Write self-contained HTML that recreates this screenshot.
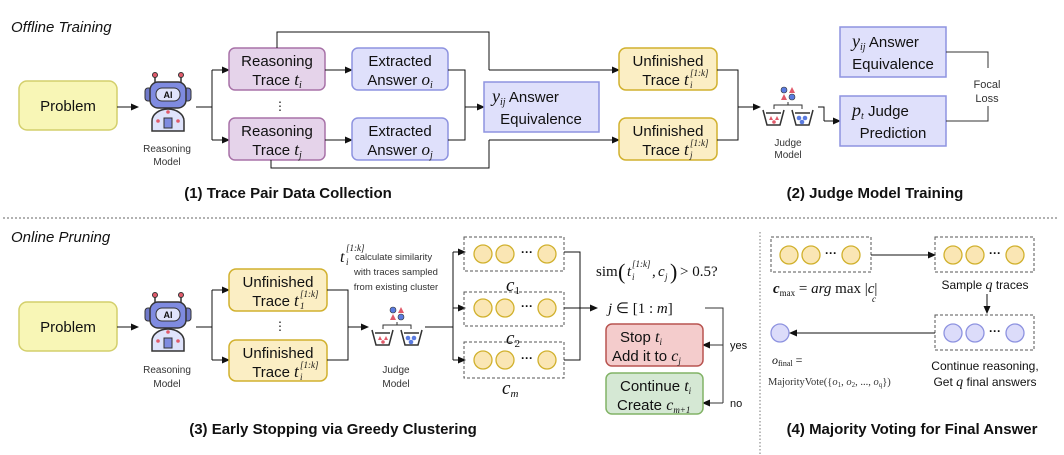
<!DOCTYPE html>
<html><head><meta charset="utf-8"><style>
html,body{margin:0;padding:0;background:#fff}
svg{display:block}
text{font-family:"Liberation Sans",sans-serif;fill:#111}
.bx{font-size:15px}
.m{font-family:"Liberation Serif",serif;font-style:italic}
.s{font-size:10px;fill:#333}
.t{font-size:15px;font-weight:bold}
.sup{font-family:"Liberation Serif",serif;font-style:italic;font-size:9px}
</style></head><body>
<svg width="1064" height="455" viewBox="0 0 1064 455" xmlns="http://www.w3.org/2000/svg">
<defs>
<marker id="a" markerWidth="8" markerHeight="8" refX="7" refY="4" orient="auto" markerUnits="userSpaceOnUse"><path d="M0,0.5 L8,4 L0,7.5 z" fill="#111"/></marker>
<g id="robot">
 <line x1="-13" y1="-28" x2="-13" y2="-20" stroke="#333" stroke-width="1.5"/>
 <line x1="13" y1="-28" x2="13" y2="-20" stroke="#333" stroke-width="1.5"/>
 <circle cx="-13" cy="-29" r="2.5" fill="#e05a6a" stroke="#333"/>
 <circle cx="13" cy="-29" r="2.5" fill="#e05a6a" stroke="#333"/>
 <rect x="-23" y="-16" width="7" height="13" rx="3" fill="#6f78c8" stroke="#333"/>
 <rect x="16" y="-16" width="7" height="13" rx="3" fill="#6f78c8" stroke="#333"/>
 <rect x="-18" y="-22" width="36" height="26" rx="8" fill="#7f8be0" stroke="#333" stroke-width="1.5"/>
 <rect x="-12" y="-16" width="24" height="13" rx="6" fill="#dfe3fb" stroke="#333"/>
 <text x="0" y="-6" text-anchor="middle" style="font-size:9px;font-weight:bold">AI</text>
 <path d="M-16,27 L-16,17 A16,12 0 0 1 16,17 L16,27 z" fill="#dfe3fb" stroke="#333" stroke-width="1.5"/>
 <rect x="-4" y="14" width="8" height="10" fill="#7f8be0" stroke="#333"/>
 <circle cx="-10" cy="17" r="1.8" fill="#e05a6a"/><circle cx="10" cy="17" r="1.8" fill="#e05a6a"/><circle cx="0" cy="8" r="1.8" fill="#e05a6a"/>
</g>
<g id="judge">
 <circle cx="-4" cy="-20" r="3" fill="#5a7be0" stroke="#333" stroke-width=".6"/>
 <path d="M1,-17 L4,-23 L7,-17 z" fill="#e05a6a"/>
 <path d="M-7,-10 L-4,-16 L-1,-10 z" fill="#e05a6a"/>
 <circle cx="4" cy="-13" r="3" fill="#5a7be0" stroke="#333" stroke-width=".6"/>
 <path d="M0,-8 V-5 M-14,-1 V-5 H14 V-1" fill="none" stroke="#333"/>
 <path d="M-25,0 L-21,15 H-8 L-4,0 M-22,3 H-7" fill="none" stroke="#333" stroke-width="1.5"/>
 <path d="M4,0 L8,15 H21 L25,0 M7,3 H22" fill="none" stroke="#333" stroke-width="1.5"/>
 <path d="M-19,10 L-17,6 L-15,10z M-13,10 L-11,6 L-9,10z" fill="#e05a6a"/><circle cx="-14" cy="12" r="1.8" fill="#e05a6a"/>
 <circle cx="11" cy="8" r="2.3" fill="#5a7be0"/><circle cx="17" cy="8" r="2.3" fill="#5a7be0"/><circle cx="14" cy="12" r="2.3" fill="#5a7be0"/>
</g>
</defs>

<!-- ===== Top ===== -->
<text x="11" y="32" style="font-size:15px;font-style:italic">Offline Training</text>
<rect x="19" y="81" width="98" height="49" rx="8" fill="#f8f6b6" stroke="#d3cf6b" stroke-width="1.5"/>
<text x="68" y="111" class="bx" text-anchor="middle">Problem</text>
<line x1="117" y1="107" x2="138" y2="107" stroke="#111" marker-end="url(#a)"/>
<use href="#robot" x="168" y="104"/>
<text x="167" y="152" class="s" text-anchor="middle">Reasoning</text>
<text x="167" y="165" class="s" text-anchor="middle">Model</text>
<path d="M196,107 H212 M212,70 V140" fill="none" stroke="#111"/>
<line x1="212" y1="70" x2="229" y2="70" stroke="#111" marker-end="url(#a)"/>
<line x1="212" y1="140" x2="229" y2="140" stroke="#111" marker-end="url(#a)"/>
<rect x="229" y="48" width="96" height="42" rx="6" fill="#e5d3ea" stroke="#a872a8" stroke-width="1.5"/>
<text x="277" y="66" class="bx" text-anchor="middle">Reasoning</text>
<text x="277" y="85" class="bx" text-anchor="middle">Trace <tspan class="m" style="font-size:17px">t<tspan style="font-size:10px" dy="3">i</tspan></tspan></text>
<rect x="229" y="118" width="96" height="42" rx="6" fill="#e5d3ea" stroke="#a872a8" stroke-width="1.5"/>
<text x="277" y="136" class="bx" text-anchor="middle">Reasoning</text>
<text x="277" y="155" class="bx" text-anchor="middle">Trace <tspan class="m" style="font-size:17px">t<tspan style="font-size:10px" dy="3">j</tspan></tspan></text>
<text x="280" y="110" text-anchor="middle" style="font-size:12px">⋮</text>
<line x1="325" y1="70" x2="352" y2="70" stroke="#111" marker-end="url(#a)"/>
<line x1="325" y1="140" x2="352" y2="140" stroke="#111" marker-end="url(#a)"/>
<rect x="352" y="48" width="96" height="42" rx="6" fill="#dfe0fb" stroke="#8e93e0" stroke-width="1.5"/>
<text x="400" y="66" class="bx" text-anchor="middle">Extracted</text>
<text x="400" y="85" class="bx" text-anchor="middle">Answer <tspan class="m" style="font-size:17px">o<tspan style="font-size:10px" dy="3">i</tspan></tspan></text>
<rect x="352" y="118" width="96" height="42" rx="6" fill="#dfe0fb" stroke="#8e93e0" stroke-width="1.5"/>
<text x="400" y="136" class="bx" text-anchor="middle">Extracted</text>
<text x="400" y="155" class="bx" text-anchor="middle">Answer <tspan class="m" style="font-size:17px">o<tspan style="font-size:10px" dy="3">j</tspan></tspan></text>
<path d="M448,70 H465 V140 H448" fill="none" stroke="#111"/>
<line x1="465" y1="107" x2="484" y2="107" stroke="#111" marker-end="url(#a)"/>
<rect x="484" y="82" width="115" height="50" fill="#dfe0fb" stroke="#8e93e0" stroke-width="1.5"/>
<text x="492" y="102" style="font-size:15px"><tspan class="m" style="font-size:18px">y<tspan style="font-size:10px" dy="3">ij</tspan></tspan><tspan dy="-3"> Answer</tspan></text>
<text x="541" y="124" class="bx" text-anchor="middle">Equivalence</text>
<path d="M277,48 V32 H489 V70" fill="none" stroke="#111"/>
<line x1="489" y1="70" x2="619" y2="70" stroke="#111" marker-end="url(#a)"/>
<path d="M271,160 V168 H489 V140" fill="none" stroke="#111"/>
<line x1="489" y1="140" x2="619" y2="140" stroke="#111" marker-end="url(#a)"/>
<rect x="619" y="48" width="98" height="42" rx="7" fill="#fbeec4" stroke="#d1b12e" stroke-width="1.5"/>
<text x="668" y="66" class="bx" text-anchor="middle">Unfinished</text>
<text x="680" y="85" class="bx" text-anchor="end">Trace</text>
<text x="684" y="85" class="m" style="font-size:17px">t</text>
<text x="690" y="76" class="sup">[1:k]</text>
<text x="690" y="88" class="sup">i</text>
<rect x="619" y="118" width="98" height="42" rx="7" fill="#fbeec4" stroke="#d1b12e" stroke-width="1.5"/>
<text x="668" y="136" class="bx" text-anchor="middle">Unfinished</text>
<text x="680" y="155" class="bx" text-anchor="end">Trace</text>
<text x="684" y="155" class="m" style="font-size:17px">t</text>
<text x="690" y="146" class="sup">[1:k]</text>
<text x="690" y="158" class="sup">j</text>
<path d="M717,70 H738 V140 H717" fill="none" stroke="#111"/>
<line x1="738" y1="107" x2="760" y2="107" stroke="#111" marker-end="url(#a)"/>
<use href="#judge" x="788" y="110"/>
<text x="788" y="146" class="s" text-anchor="middle">Judge</text>
<text x="788" y="158" class="s" text-anchor="middle">Model</text>
<path d="M818,107 H824 V121" fill="none" stroke="#111"/>
<line x1="824" y1="121" x2="840" y2="121" stroke="#111" marker-end="url(#a)"/>
<rect x="840" y="27" width="106" height="50" fill="#dfe0fb" stroke="#8e93e0" stroke-width="1.5"/>
<text x="852" y="47" style="font-size:15px"><tspan class="m" style="font-size:18px">y<tspan style="font-size:10px" dy="3">ij</tspan></tspan><tspan dy="-3"> Answer</tspan></text>
<text x="893" y="69" class="bx" text-anchor="middle">Equivalence</text>
<rect x="840" y="96" width="106" height="50" fill="#dfe0fb" stroke="#8e93e0" stroke-width="1.5"/>
<text x="852" y="116" style="font-size:15px"><tspan class="m" style="font-size:18px">p<tspan style="font-size:10px" dy="3">t</tspan></tspan><tspan dy="-3"> Judge</tspan></text>
<text x="893" y="138" class="bx" text-anchor="middle">Prediction</text>
<path d="M946,52 H988 V68 M988,106 V121 H946" fill="none" stroke="#333"/>
<text x="987" y="88" style="font-size:11px;fill:#333" text-anchor="middle">Focal</text>
<text x="987" y="102" style="font-size:11px;fill:#333" text-anchor="middle">Loss</text>
<text x="288" y="198" class="t" text-anchor="middle">(1) Trace Pair Data Collection</text>
<text x="875" y="198" class="t" text-anchor="middle">(2) Judge Model Training</text>

<line x1="3" y1="218" x2="1058" y2="218" stroke="#666" stroke-dasharray="2,2"/>

<!-- ===== Bottom ===== -->
<text x="11" y="242" style="font-size:15px;font-style:italic">Online Pruning</text>
<rect x="19" y="302" width="98" height="49" rx="8" fill="#f8f6b6" stroke="#d3cf6b" stroke-width="1.5"/>
<text x="68" y="332" class="bx" text-anchor="middle">Problem</text>
<line x1="117" y1="327" x2="138" y2="327" stroke="#111" marker-end="url(#a)"/>
<use href="#robot" x="168" y="324"/>
<text x="167" y="373" class="s" text-anchor="middle">Reasoning</text>
<text x="167" y="387" class="s" text-anchor="middle">Model</text>
<path d="M196,327 H212 M212,290 V360" fill="none" stroke="#111"/>
<line x1="212" y1="290" x2="229" y2="290" stroke="#111" marker-end="url(#a)"/>
<line x1="212" y1="360" x2="229" y2="360" stroke="#111" marker-end="url(#a)"/>
<rect x="229" y="269" width="98" height="42" rx="7" fill="#fbeec4" stroke="#d1b12e" stroke-width="1.5"/>
<text x="278" y="287" class="bx" text-anchor="middle">Unfinished</text>
<text x="290" y="306" class="bx" text-anchor="end">Trace</text>
<text x="294" y="306" class="m" style="font-size:17px">t</text>
<text x="300" y="297" class="sup">[1:k]</text>
<text x="300" y="309" class="sup">1</text>
<rect x="229" y="340" width="98" height="41" rx="7" fill="#fbeec4" stroke="#d1b12e" stroke-width="1.5"/>
<text x="278" y="358" class="bx" text-anchor="middle">Unfinished</text>
<text x="290" y="377" class="bx" text-anchor="end">Trace</text>
<text x="294" y="377" class="m" style="font-size:17px">t</text>
<text x="300" y="368" class="sup">[1:k]</text>
<text x="300" y="380" class="sup">i</text>
<text x="280" y="330" text-anchor="middle" style="font-size:12px">⋮</text>
<path d="M327,290 H348 V360 H327" fill="none" stroke="#111"/>
<line x1="348" y1="327" x2="368" y2="327" stroke="#111" marker-end="url(#a)"/>
<use href="#judge" x="397" y="330"/>
<text x="396" y="373" class="s" text-anchor="middle">Judge</text>
<text x="396" y="387" class="s" text-anchor="middle">Model</text>
<text x="340" y="262" class="m" style="font-size:16px">t</text>
<text x="346" y="251" class="sup">[1:k]</text>
<text x="346" y="265" class="sup">i</text>
<text x="355" y="260" style="font-size:9.5px;fill:#333">calculate similarity</text>
<text x="396" y="275" style="font-size:9.5px;fill:#333" text-anchor="middle">with traces sampled</text>
<text x="396" y="290" style="font-size:9.5px;fill:#333" text-anchor="middle">from existing cluster</text>
<path d="M425,327 H453 M453,252 V360" fill="none" stroke="#111"/>
<line x1="453" y1="252" x2="465" y2="252" stroke="#111" marker-end="url(#a)"/>
<line x1="453" y1="308" x2="465" y2="308" stroke="#111" marker-end="url(#a)"/>
<line x1="453" y1="360" x2="465" y2="360" stroke="#111" marker-end="url(#a)"/>
<g fill="none" stroke="#555" stroke-dasharray="3,2">
<rect x="464" y="237" width="100" height="34"/><rect x="464" y="292" width="100" height="34"/><rect x="464" y="342" width="100" height="36"/>
<rect x="771" y="237" width="100" height="35"/><rect x="935" y="237" width="99" height="35"/><rect x="935" y="315" width="99" height="35"/>
</g>
<g fill="#fae6b4" stroke="#d1b12e" stroke-width="1.3">
<circle cx="483" cy="254" r="9"/><circle cx="505" cy="254" r="9"/><circle cx="547" cy="254" r="9"/>
<circle cx="483" cy="308" r="9"/><circle cx="505" cy="308" r="9"/><circle cx="547" cy="308" r="9"/>
<circle cx="483" cy="360" r="9"/><circle cx="505" cy="360" r="9"/><circle cx="547" cy="360" r="9"/>
<circle cx="789" cy="255" r="9"/><circle cx="811" cy="255" r="9"/><circle cx="851" cy="255" r="9"/>
<circle cx="953" cy="255" r="9"/><circle cx="975" cy="255" r="9"/><circle cx="1015" cy="255" r="9"/>
</g>
<g fill="#dcdcfa" stroke="#8e93e0" stroke-width="1.3">
<circle cx="953" cy="333" r="9"/><circle cx="975" cy="333" r="9"/><circle cx="1015" cy="333" r="9"/>
<circle cx="780" cy="333" r="9"/>
</g>
<g style="font-size:12px;font-weight:bold" text-anchor="middle">
<text x="527" y="256">···</text><text x="527" y="310">···</text><text x="527" y="362">···</text>
<text x="831" y="257">···</text><text x="995" y="257">···</text><text x="995" y="335">···</text>
</g>
<text x="506" y="291" class="m" style="font-size:19px">c<tspan style="font-size:11px;font-style:normal" dy="3">1</tspan></text>
<text x="506" y="344" class="m" style="font-size:19px">c<tspan style="font-size:11px;font-style:normal" dy="3">2</tspan></text>
<text x="502" y="394" class="m" style="font-size:19px">c<tspan style="font-size:11px" dy="3">m</tspan></text>
<path d="M564,252 H580 V360 H564 M564,308 H580" fill="none" stroke="#111"/>
<line x1="580" y1="308" x2="597" y2="308" stroke="#111" marker-end="url(#a)"/>
<text x="596" y="276" style="font-family:'Liberation Serif',serif;font-size:15px">sim</text>
<text x="618" y="279" style="font-family:'Liberation Serif',serif;font-size:22px">(</text>
<text x="627" y="276" class="m" style="font-size:15px">t</text>
<text x="632" y="267" class="sup">[1:k]</text>
<text x="632" y="280" class="sup">i</text>
<text x="652" y="276" style="font-family:'Liberation Serif',serif;font-size:15px">,</text>
<text x="658" y="276" class="m" style="font-size:15px">c</text>
<text x="665" y="280" class="sup">j</text>
<text x="670" y="279" style="font-family:'Liberation Serif',serif;font-size:22px">)</text>
<text x="680" y="276" style="font-family:'Liberation Serif',serif;font-size:15px">&gt; 0.5?</text>
<text x="608" y="313" style="font-family:'Liberation Serif',serif;font-size:15px"><tspan class="m">j</tspan> ∈ [1 : <tspan class="m">m</tspan>]</text>
<path d="M705,308 H723 V403" fill="none" stroke="#333"/>
<line x1="723" y1="345" x2="703" y2="345" stroke="#333" marker-end="url(#a)"/>
<line x1="723" y1="403" x2="703" y2="403" stroke="#333" marker-end="url(#a)"/>
<text x="730" y="349" style="font-size:11px">yes</text>
<text x="730" y="407" style="font-size:11px">no</text>
<rect x="606" y="324" width="97" height="42" rx="6" fill="#f4cccc" stroke="#b85450" stroke-width="1.5"/>
<text x="620" y="342" class="bx">Stop <tspan class="m" style="font-size:16px">t<tspan style="font-size:9px" dy="3">i</tspan></tspan></text>
<text x="612" y="361" class="bx">Add it to <tspan class="m" style="font-size:16px">c<tspan style="font-size:9px" dy="3">j</tspan></tspan></text>
<rect x="606" y="373" width="97" height="41" rx="6" fill="#d5e8d4" stroke="#82b366" stroke-width="1.5"/>
<text x="620" y="391" class="bx">Continue <tspan class="m" style="font-size:16px">t<tspan style="font-size:9px" dy="3">i</tspan></tspan></text>
<text x="617" y="410" class="bx">Create <tspan class="m" style="font-size:16px">c<tspan style="font-size:9px" dy="3">m+1</tspan></tspan></text>
<text x="333" y="434" class="t" text-anchor="middle">(3) Early Stopping via Greedy Clustering</text>

<line x1="760" y1="232" x2="760" y2="455" stroke="#777" stroke-dasharray="1.5,2"/>
<line x1="871" y1="255" x2="935" y2="255" stroke="#111" marker-end="url(#a)"/>
<line x1="987" y1="294" x2="987" y2="313" stroke="#111" marker-end="url(#a)"/>
<line x1="935" y1="333" x2="790" y2="333" stroke="#111" marker-end="url(#a)"/>
<text x="773" y="293" style="font-family:'Liberation Serif',serif;font-size:15px"><tspan class="m" style="font-weight:bold">c</tspan><tspan style="font-size:9px" dy="3">max</tspan><tspan dy="-3"> = </tspan><tspan class="m">arg</tspan> max |<tspan class="m">c</tspan>|</text>
<text x="872" y="302" class="m" style="font-size:9px">c</text>
<text x="985" y="289" style="font-size:12px" text-anchor="middle">Sample <tspan class="m" style="font-size:14px">q</tspan> traces</text>
<text x="772" y="364" style="font-family:'Liberation Serif',serif;font-size:12px"><tspan class="m">o</tspan><tspan style="font-size:8px" dy="2">final</tspan><tspan dy="-2"> =</tspan></text>
<text x="768" y="385" style="font-family:'Liberation Serif',serif;font-size:10.5px;fill:#333">MajorityVote({<tspan class="m">o</tspan><tspan style="font-size:7px" dy="2">1</tspan><tspan dy="-2">, </tspan><tspan class="m">o</tspan><tspan style="font-size:7px" dy="2">2</tspan><tspan dy="-2">, ..., </tspan><tspan class="m">o</tspan><tspan style="font-size:7px" dy="2">q</tspan><tspan dy="-2">})</tspan></text>
<text x="985" y="370" style="font-size:12px" text-anchor="middle">Continue reasoning,</text>
<text x="985" y="386" style="font-size:12px" text-anchor="middle">Get <tspan class="m" style="font-size:14px">q</tspan> final answers</text>
<text x="912" y="434" class="t" text-anchor="middle">(4) Majority Voting for Final Answer</text>
</svg>
</body></html>
